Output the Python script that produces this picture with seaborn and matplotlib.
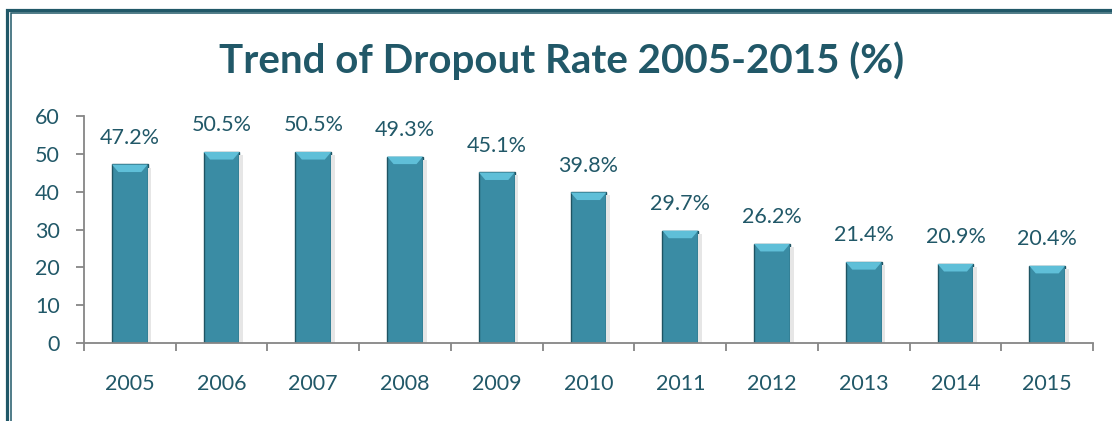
import matplotlib
matplotlib.use("Agg")
import matplotlib.pyplot as plt
from matplotlib.patches import Rectangle, Polygon
import seaborn as sns
import pandas as pd

years = ["2005", "2006", "2007", "2008", "2009", "2010", "2011", "2012", "2013", "2014", "2015"]
dropout = [47.2, 50.5, 50.5, 49.3, 45.1, 39.8, 29.7, 26.2, 21.4, 20.9, 20.4]
title = "Trend of Dropout Rate 2005-2015 (%)"

teal_text = "#215868"
bar_col = "#3A8CA4"
axis_col = "#868686"

sns.set_theme(style="white")
plt.rcParams["font.family"] = ["Lato", "DejaVu Sans"]

df = pd.DataFrame({"year": years, "rate": dropout})

fig = plt.figure(figsize=(11.12, 4.21), dpi=100)
ax = fig.add_axes([0.0755, 0.1853, 0.9075, 0.539])

sns.barplot(data=df, x="year", y="rate", color=bar_col, saturation=1,
            width=0.39, edgecolor="#1E5463", linewidth=1.0, ax=ax)

# bevel look: lighter top face and soft shadow, from the bar patches
for p in ax.patches:
    x0, w, h = p.get_x(), p.get_width(), p.get_height()
    d = 2.0
    ins = 0.07
    ax.add_patch(Polygon([(x0, h), (x0 + w, h), (x0 + w - ins, h - d), (x0 + ins, h - d)],
                         closed=True, facecolor="#5FBFD8", edgecolor="none", zorder=3))
    ax.add_patch(Rectangle((x0 + w, 0), 0.04, h - 0.8, facecolor="#E6E6E6",
                           edgecolor="none", zorder=1))

labels = [f"{v}%" for v in dropout]
ax.bar_label(ax.containers[0], labels=labels, padding=12, fontsize=15.5, color=teal_text)

ax.set_ylim(0, 60)
ax.set_xlim(-0.5, len(years) - 0.5)
ax.set_yticks(range(0, 61, 10))
ax.set_xlabel("")
ax.set_ylabel("")

for s in ["top", "right"]:
    ax.spines[s].set_visible(False)
for s in ["left", "bottom"]:
    ax.spines[s].set_color(axis_col)
    ax.spines[s].set_linewidth(1.3)

ax.tick_params(axis="y", left=True, length=6, width=1.3, color=axis_col,
               pad=11.5, labelsize=15.5, labelcolor=teal_text)
ax.tick_params(axis="x", bottom=False, pad=16, labelsize=15.5, labelcolor=teal_text)
# tick marks between categories
ax.set_xticks([i - 0.5 for i in range(len(years) + 1)], minor=True)
ax.tick_params(axis="x", which="minor", bottom=True, length=6, width=1.3,
               color=axis_col, direction="out")

fig.text(0.505, 0.855, title, ha="center", va="center", fontsize=29,
         fontweight="bold", color=teal_text)

# double frame (top and left visible)
W, H = 1112, 421
fig.add_artist(Rectangle((6.5 / W, -0.1), 1.2, 1.1 - 10 / H, transform=fig.transFigure,
                         fill=False, edgecolor=teal_text, linewidth=2.3))
fig.add_artist(Rectangle((10.8 / W, -0.1), 1.2, 1.1 - 13.3 / H, transform=fig.transFigure,
                         fill=False, edgecolor=teal_text, linewidth=1.1))

fig.savefig("out.png", dpi=100)
